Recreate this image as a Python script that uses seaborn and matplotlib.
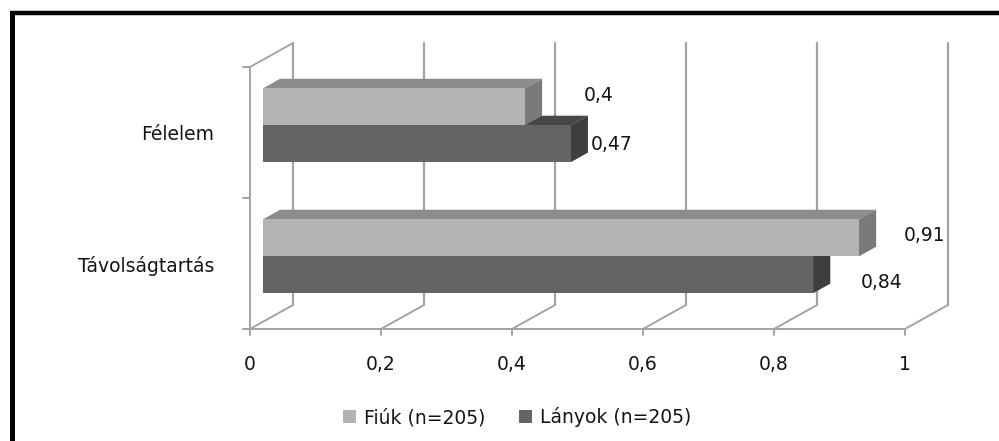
import matplotlib
matplotlib.use("Agg")
import matplotlib.pyplot as plt
from matplotlib.lines import Line2D
from matplotlib.patches import Polygon, Patch
import seaborn as sns
import pandas as pd

# ---- data ----
categories = ["Félelem", "Távolságtartás"]
series_names = ["Fiúk (n=205)", "Lányok (n=205)"]
fiuk = [0.4, 0.91]
lanyok = [0.47, 0.84]
value_labels_fiuk = ["0,4", "0,91"]
value_labels_lanyok = ["0,47", "0,84"]
xtick_values = [0, 0.2, 0.4, 0.6, 0.8, 1.0]
xtick_labels = ["0", "0,2", "0,4", "0,6", "0,8", "1"]

df = pd.DataFrame({
    "kategoria": categories * 2,
    "ertek": fiuk + lanyok,
    "csoport": [series_names[0]] * 2 + [series_names[1]] * 2,
})

front_colors = {series_names[0]: "#b3b3b3", series_names[1]: "#646464"}
top_colors = {series_names[0]: "#8c8c8c", series_names[1]: "#474747"}
side_colors = {series_names[0]: "#7a7a7a", series_names[1]: "#3e3e3e"}
grid_col = "#a3a3a3"
text_col = "#141414"

W, H = 999, 441
fig = plt.figure(figsize=(W / 100, H / 100), dpi=100)
sns.set_style("white")
plt.rcParams["font.family"] = ["DejaVu Sans"]
FS = 13.5

ax = fig.add_axes([250 / W, (H - 329) / H, 655 / W, 262 / H])

sns.barplot(data=df, y="kategoria", x="ertek", hue="csoport", orient="h",
            palette=front_colors, width=0.564, dodge=True, legend=False,
            saturation=1, ax=ax, order=categories, hue_order=series_names,
            linewidth=0, zorder=4)

ax.set_xlim(0, 1)
ax.set_ylim(1.5, -0.5)

# 3D geometry (in data units)
DX, DY = 43 / 655, -24 / 131          # full depth of the box
bx, by = 0.3 * DX, 0.3 * DY           # bar front-face depth
ddx, ddy = 0.4 * DX, 0.4 * DY         # bar thickness

# back wall grid, floor diagonals, left wall
for v in xtick_values:
    ax.add_line(Line2D([v + DX, v + DX], [-0.5 + DY, 1.5 + DY], color=grid_col,
                       lw=1.6, clip_on=False, zorder=1))
    ax.add_line(Line2D([v, v + DX], [1.5, 1.5 + DY], color=grid_col,
                       lw=1.4, clip_on=False, zorder=1))
    ax.add_line(Line2D([v, v], [1.5, 1.5 + 0.045], color=grid_col,
                       lw=1.4, clip_on=False, zorder=1))
ax.add_line(Line2D([0, DX], [-0.5, -0.5 + DY], color=grid_col, lw=1.4,
                   clip_on=False, zorder=1))
for yb in [-0.5, 0.5, 1.5]:
    ax.add_line(Line2D([0, -0.011], [yb, yb], color=grid_col, lw=1.4,
                       clip_on=False, zorder=1))

# move bars into the depth and add top / side faces
for name, cont in zip(series_names[::-1], ax.containers[::-1]):
    for p in cont:
        p.set_x(p.get_x() + bx)
        p.set_y(p.get_y() + by)
        x0, y0 = p.get_x(), p.get_y()
        w, h = p.get_width(), p.get_height()
        top = Polygon([(x0, y0), (x0 + w, y0), (x0 + w + ddx, y0 + ddy), (x0 + ddx, y0 + ddy)],
                      closed=True, facecolor=top_colors[name], edgecolor="none",
                      zorder=3, clip_on=False)
        side = Polygon([(x0 + w, y0), (x0 + w + ddx, y0 + ddy), (x0 + w + ddx, y0 + h + ddy), (x0 + w, y0 + h)],
                       closed=True, facecolor=side_colors[name], edgecolor="none",
                       zorder=3, clip_on=False)
        ax.add_patch(top)
        ax.add_patch(side)

# value labels (nudges in pixels, per category then series)
label_nudge = [[(57, -11), (24, 1)], [(48, -2), (51, 8)]]
labels_all = [value_labels_fiuk, value_labels_lanyok]
for si, cont in enumerate(ax.containers):
    for ci, p in enumerate(cont):
        nx, ny = label_nudge[ci][si]
        ax.annotate(labels_all[si][ci],
                    xy=(p.get_x() + p.get_width() + ddx, p.get_y() + p.get_height() / 2),
                    xytext=(nx * 0.72, -ny * 0.72), textcoords="offset points",
                    ha="center", va="center", fontsize=FS, color=text_col,
                    annotation_clip=False)

# axes styling
for s in ["top", "right"]:
    ax.spines[s].set_visible(False)
for s in ["left", "bottom"]:
    ax.spines[s].set_color(grid_col)
    ax.spines[s].set_linewidth(1.4)
ax.set_xticks(xtick_values)
ax.set_xticklabels(xtick_labels, fontsize=FS, color=text_col)
ax.tick_params(axis="x", length=0, pad=19)
ax.tick_params(axis="y", length=0, pad=26, labelsize=FS, labelcolor=text_col)
ax.set_xlabel("")
ax.set_ylabel("")
ax.grid(False)
ax.set_facecolor("none")

# legend
handles = [Patch(facecolor=front_colors[n], edgecolor="none") for n in series_names]
leg = fig.legend(handles, series_names, loc="center", bbox_to_anchor=(517 / W, 24 / H),
                 ncol=2, frameon=False, fontsize=FS, handlelength=0.7, handleheight=0.7,
                 handletextpad=0.4, columnspacing=1.8)
for t in leg.get_texts():
    t.set_color(text_col)

# black frame (partially cropped)
fig.add_artist(Line2D([9.5 / W, 1.0], [1 - 12.5 / H] * 2, transform=fig.transFigure,
                      color="black", lw=3.2, solid_capstyle="butt"))
fig.add_artist(Line2D([11.5 / W] * 2, [0, 1 - 10.5 / H], transform=fig.transFigure,
                      color="black", lw=3.6, solid_capstyle="butt"))

fig.savefig("out.png", dpi=100)
